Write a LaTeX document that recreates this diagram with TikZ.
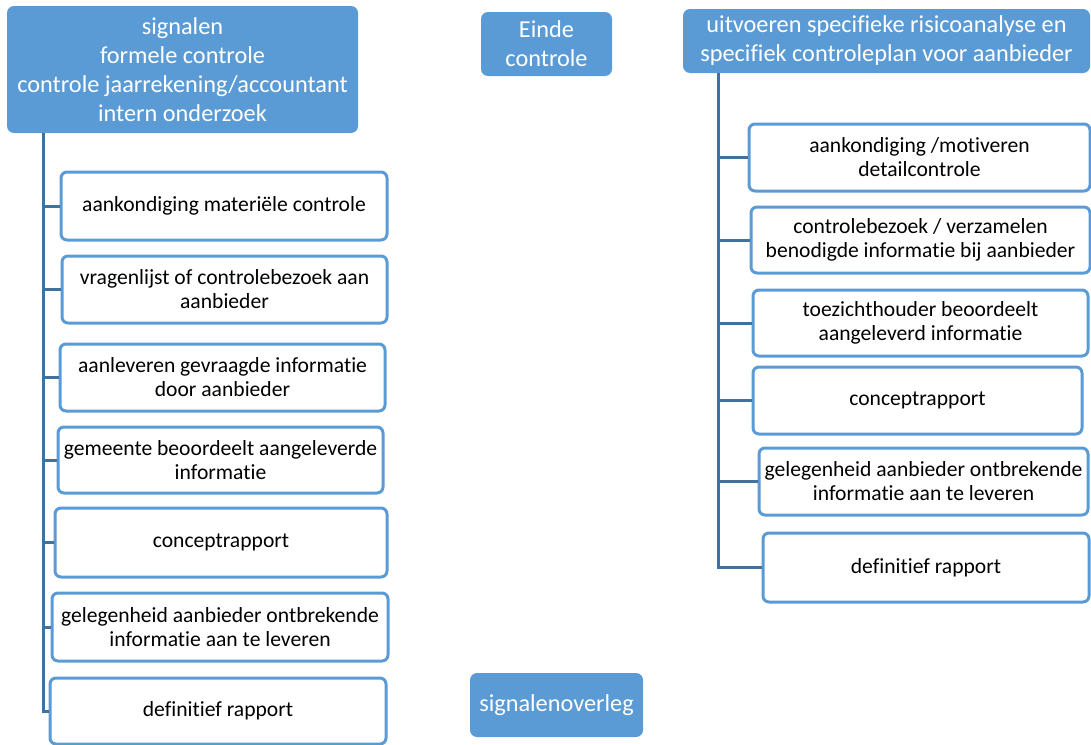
\documentclass[tikz,border=0pt]{standalone}
\usepackage{fontspec}
\setmainfont{Carlito}[Ligatures={NoCommon}]
\definecolor{hdr}{HTML}{5B9BD5}
\definecolor{bord}{HTML}{5B9BD5}
\definecolor{trunk}{HTML}{41719C}
\begin{document}
\begin{tikzpicture}[x=1pt,y=-1pt,
  hdrbox/.style={draw=none,fill=hdr,rounded corners=7pt,text=white,align=center,inner sep=0pt,
    font=\fontsize{24.3}{29}\selectfont},
  stepbox/.style={draw=bord,line width=3pt,fill=white,rounded corners=6pt,text=black,align=center,inner sep=0pt,
    font=\fontsize{21.6}{24}\selectfont},
  conn/.style={draw=trunk,line width=3pt}]
\useasboundingbox (0,0) rectangle (1091,744);
% headers
\node[hdrbox,minimum width=351,minimum height=127] (hL) at (182.5,69.5) {signalen\\formele controle\\controle jaarrekening/accountant\\intern onderzoek};
\node[hdrbox,minimum width=131,minimum height=64] (hE) at (546.5,44) {Einde\\controle};
\node[hdrbox,minimum width=407,minimum height=64] (hR) at (886.5,41) {uitvoeren specifieke risicoanalyse en\\specifiek controleplan voor aanbieder};
\node[hdrbox,minimum width=173,minimum height=64] (hS) at (556.5,705) {signalenoverleg};
% left column
\node[stepbox,minimum width=326,minimum height=68] (l1) at (224,206) {aankondiging materiële controle};
\node[stepbox,minimum width=325,minimum height=67] (l2) at (224.5,289.5) {vragenlijst of controlebezoek aan\\aanbieder};
\node[stepbox,minimum width=325,minimum height=67] (l3) at (222.5,377.5) {aanleveren gevraagde informatie\\door aanbieder};
\node[stepbox,minimum width=325,minimum height=66] (l4) at (220.5,460) {gemeente beoordeelt aangeleverde\\informatie};
\node[stepbox,minimum width=332,minimum height=69] (l5) at (221,542.5) {conceptrapport};
\node[stepbox,minimum width=336,minimum height=68] (l6) at (220,627) {gelegenheid aanbieder ontbrekende\\informatie aan te leveren};
\node[stepbox,minimum width=336,minimum height=66] (l7) at (218,711) {definitief rapport};
% right column
\node[stepbox,minimum width=341,minimum height=67] (r1) at (919.5,157.5) {aankondiging /motiveren\\detailcontrole};
\node[stepbox,minimum width=339,minimum height=66] (r2) at (920.5,240) {controlebezoek / verzamelen\\benodigde informatie bij aanbieder};
\node[stepbox,minimum width=335,minimum height=66] (r3) at (920.5,323) {toezichthouder beoordeelt\\aangeleverd informatie};
\node[stepbox,minimum width=329,minimum height=67] (r4) at (917.5,400.5) {conceptrapport};
\node[stepbox,minimum width=329,minimum height=67] (r5) at (923.5,481.5) {gelegenheid aanbieder ontbrekende\\informatie aan te leveren};
\node[stepbox,minimum width=326,minimum height=69] (r6) at (926,567.5) {definitief rapport};
% connectors
\coordinate (tL) at (43,133);
\coordinate (tR) at (718,73);
\draw[conn] (tL) |- (l7.west);
\foreach \n in {l1,l2,l3,l4,l5,l6} \draw[conn] (tL |- \n.west) -- (\n.west);
\draw[conn] (tR) |- (r6.west);
\foreach \n in {r1,r2,r3,r4,r5} \draw[conn] (tR |- \n.west) -- (\n.west);
\end{tikzpicture}
\end{document}
